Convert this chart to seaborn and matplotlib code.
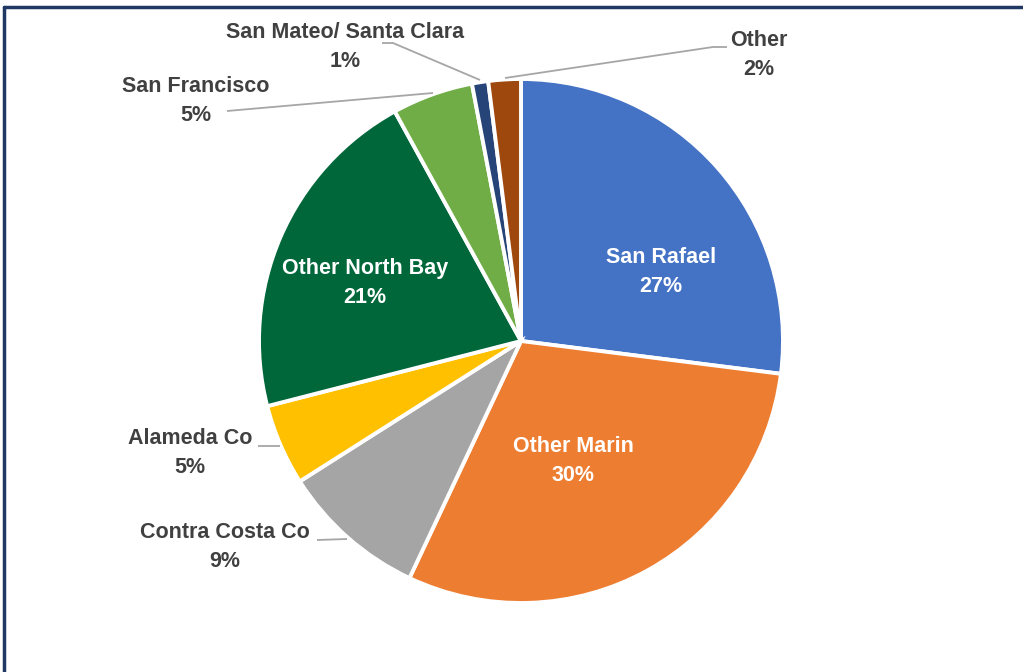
import matplotlib
matplotlib.use("Agg")
import matplotlib.pyplot as plt
from matplotlib.lines import Line2D
import seaborn as sns

# data (clockwise from 12 o'clock)
regions = ["San Rafael", "Other Marin", "Contra Costa Co", "Alameda Co",
           "Other North Bay", "San Francisco", "San Mateo/ Santa Clara", "Other"]
shares = [27, 30, 9, 5, 21, 5, 1, 2]
colors = ["#4472C4", "#ED7D31", "#A5A5A5", "#FFC000",
          "#00673A", "#70AD47", "#264478", "#9E480E"]

sns.set_theme(style="white")
plt.rcParams["font.family"] = ["Liberation Sans", "DejaVu Sans"]

W, H = 1023, 672
CX, CY, R = 521, 341, 262

fig = plt.figure(figsize=(W / 100, H / 100), dpi=100)
ax = fig.add_axes([0, 0, 1, 1])


def p(x, y):
    # pixel position -> data coords
    return ((x - CX) / R, (CY - y) / R)


ax.pie(shares, colors=colors, startangle=90, counterclock=False, radius=1,
       wedgeprops=dict(edgecolor="white", linewidth=2.8))
ax.set_xlim(-CX / R, (W - CX) / R)
ax.set_ylim(-(H - CY) / R, CY / R)
ax.set_aspect("auto")
ax.axis("off")

# label layout: (label center px, leader polyline px or None, inside?)
layout = {
    "San Rafael": ((661, 272), None, True),
    "Other Marin": ((573, 461), None, True),
    "Other North Bay": ((365, 283), None, True),
    "Contra Costa Co": ((225, 547), [(317, 540), (347, 539)], False),
    "Alameda Co": ((190, 453), [(258, 446), (280, 446)], False),
    "San Francisco": ((196, 101), [(227, 111), (433, 93)], False),
    "San Mateo/ Santa Clara": ((345, 47), [(382, 43), (393, 43), (480, 80)], False),
    "Other": ((759, 55), [(505, 78), (713, 47), (727, 47)], False),
}

for name, val in zip(regions, shares):
    (tx, ty), leader, inside = layout[name]
    col = "white" if inside else "#404040"
    ax.text(*p(tx, ty), f"{name}\n{val}%", ha="center", va="center",
            fontsize=15.5, fontweight="bold", color=col, linespacing=1.55)
    if leader:
        xs, ys = zip(*[p(x, y) for x, y in leader])
        ax.plot(xs, ys, color="#A6A6A6", lw=1.3, solid_capstyle="butt")

# chart frame (only top and left edges visible)
fc = "#1F3864"
fig.add_artist(Line2D([4 / W, 1], [1 - 7 / H, 1 - 7 / H], color=fc, lw=2.5))
fig.add_artist(Line2D([4 / W, 4 / W], [0, 1 - 7 / H], color=fc, lw=2.5))

fig.savefig("out.png", dpi=100)
